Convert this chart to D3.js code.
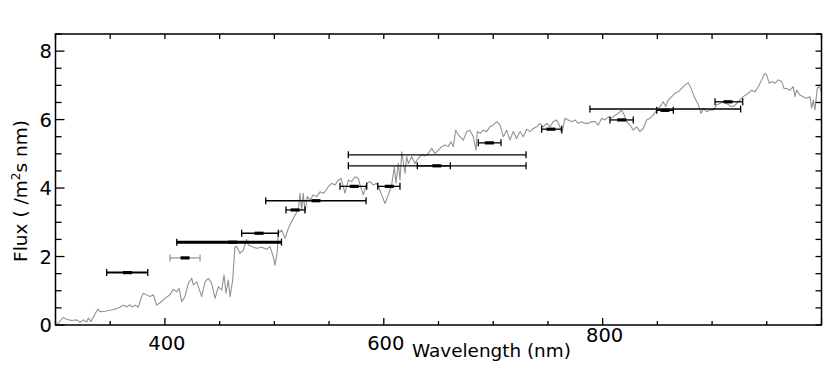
<!DOCTYPE html>
<html>
<head>
<meta charset="utf-8">
<script src="https://cdn.jsdelivr.net/npm/d3@7"></script>
<style>
  html, body { margin: 0; padding: 0; background: #fff; }
  svg { display: block; font-family: "DejaVu Sans", sans-serif; }
</style>
</head>
<body>
<div id="chart"></div>
<script>
// Spectrum (nm, flux)
const wavelength = [
  301.1, 307.1, 310.2, 314.8, 319.4, 322.4, 325.4, 328.5, 330.0, 332.4, 336.1, 338.6, 340.7, 345.2, 349.8,
  354.4, 358.9, 362.0, 365.1, 368.1, 370.2, 373.3, 375.7, 378.1, 380.2, 383.3, 386.4, 389.4, 392.5, 395.5,
  400.1, 404.6, 407.6, 410.8, 412.9, 415.3, 418.3, 421.4, 424.5, 425.9, 429.0, 433.6, 436.6, 439.6, 442.7,
  445.8, 448.8, 451.9, 454.0, 455.8, 457.9, 459.5, 461.9, 464.0, 465.6, 468.6, 471.6, 474.7, 476.2, 479.3,
  483.9, 488.4, 493.0, 496.0, 499.0, 500.6, 502.7, 503.6, 506.7, 509.7, 512.7, 515.8, 518.9, 521.9, 523.4,
  525.0, 526.4, 528.0, 530.1, 532.6, 535.6, 538.7, 541.7, 544.7, 546.3, 549.3, 552.4, 555.4, 558.4, 560.9,
  563.0, 564.5, 567.6, 570.7, 573.7, 576.7, 578.3, 581.3, 584.4, 587.4, 590.4, 593.5, 595.0, 598.1, 601.1,
  604.1, 607.2, 609.6, 611.1, 613.3, 614.8, 616.4, 617.8, 619.4, 620.9, 622.4, 625.5, 628.5, 631.5, 634.6,
  637.6, 640.7, 643.8, 646.8, 649.8, 652.9, 655.9, 658.9, 661.4, 663.5, 665.7, 668.1, 669.6, 672.6, 675.8,
  678.8, 681.8, 684.3, 685.4, 687.9, 690.9, 694.0, 697.0, 700.1, 703.2, 706.2, 709.2, 712.3, 715.3, 718.3,
  721.4, 724.5, 727.5, 730.6, 733.6, 736.6, 739.7, 742.7, 745.7, 748.9, 751.9, 754.9, 758.0, 761.0, 762.6,
  765.6, 768.6, 771.7, 774.7, 777.7, 780.8, 783.9, 786.9, 790.0, 793.0, 796.0, 799.1, 802.1, 805.1, 808.3,
  811.3, 814.3, 817.4, 819.8, 822.0, 825.0, 828.0, 831.1, 834.1, 837.1, 840.2, 843.3, 846.3, 849.4, 852.4,
  855.4, 857.6, 860.0, 863.1, 866.1, 869.1, 872.2, 875.2, 878.3, 881.4, 884.4, 887.4, 889.9, 892.0, 895.1,
  898.1, 901.1, 904.2, 907.2, 910.2, 913.3, 916.4, 919.4, 922.5, 928.5, 933.1, 936.2, 939.2, 942.2, 945.3,
  948.3, 949.9, 952.3, 954.5, 957.5, 960.5, 963.6, 965.7, 968.2, 971.2, 974.2, 975.8, 977.3, 980.3, 983.3,
  986.4, 989.5, 991.0, 992.5, 994.0, 996.1, 997.9, 1000.0
];
const flux = [
  0.00, 0.22, 0.17, 0.13, 0.15, 0.08, 0.15, 0.09, 0.20, 0.10, 0.32, 0.46, 0.39, 0.40, 0.43,
  0.46, 0.52, 0.58, 0.53, 0.59, 0.53, 0.58, 0.52, 0.78, 0.93, 0.88, 0.83, 0.88, 0.58, 0.65,
  0.78, 0.88, 1.04, 0.97, 1.07, 0.68, 0.83, 1.22, 1.36, 1.17, 1.26, 0.83, 1.26, 1.36, 1.22,
  0.78, 1.12, 1.02, 1.46, 0.93, 1.31, 0.83, 1.31, 2.29, 2.29, 2.09, 2.19, 2.50, 2.34, 2.29,
  2.24, 2.27, 2.21, 2.29, 2.00, 1.75, 2.14, 2.68, 2.77, 2.53, 2.82, 3.02, 3.21, 3.36, 3.85,
  3.36, 3.85, 3.31, 3.75, 3.65, 3.80, 3.75, 3.89, 3.85, 3.89, 4.04, 4.14, 4.09, 4.23, 4.28,
  4.04, 3.85, 4.23, 4.19, 4.33, 4.28, 4.09, 3.80, 4.14, 4.19, 4.09, 4.14, 4.04, 3.80, 3.55,
  3.80, 4.09, 4.62, 4.14, 4.72, 4.23, 5.06, 4.77, 4.43, 4.92, 4.72, 4.92, 4.72, 4.87, 4.97,
  4.94, 5.01, 5.16, 5.01, 5.11, 5.21, 5.26, 5.21, 5.35, 5.21, 5.69, 5.55, 5.50, 5.40, 5.65,
  5.69, 5.50, 5.11, 5.65, 5.60, 5.69, 5.65, 5.79, 5.84, 5.94, 5.84, 5.50, 5.69, 5.40, 5.65,
  5.45, 5.65, 5.50, 5.72, 5.65, 5.74, 5.79, 5.89, 5.79, 5.89, 5.79, 5.94, 5.99, 5.79, 5.58,
  6.04, 5.99, 5.94, 5.99, 5.89, 5.94, 5.89, 5.89, 5.94, 5.94, 5.84, 6.04, 5.99, 6.08, 6.04,
  6.13, 6.18, 6.28, 6.13, 5.94, 5.84, 5.69, 5.79, 5.65, 5.74, 5.99, 6.04, 6.13, 6.28, 6.38,
  6.52, 6.38, 6.57, 6.67, 6.77, 6.81, 6.91, 7.01, 7.08, 6.86, 6.62, 6.43, 6.18, 6.33, 6.23,
  6.28, 6.28, 6.43, 6.47, 6.52, 6.47, 6.40, 6.38, 6.47, 6.67, 6.77, 6.86, 6.81, 6.96, 7.16,
  7.35, 7.30, 7.06, 7.11, 7.06, 7.16, 7.11, 6.91, 6.91, 6.86, 6.96, 6.67, 6.86, 6.72, 6.67,
  6.62, 6.67, 6.33, 6.57, 6.28, 6.91, 6.96, 6.81
];

// Photometric points: band edges (nm), flux, marker wavelength (null = no marker)
const barLow  = [346.8, 404.7, 410.8, 470.1, 492.1, 510.6, 560.0, 594.5, 567.6, 567.6, 630.6, 686.4, 744.3, 806.7, 788.4, 849.4, 902.7];
const barHigh = [384.3, 432.1, 506.5, 503.6, 583.8, 528.0, 584.4, 614.8, 730.0, 730.0, 660.8, 707.1, 762.6, 828.0, 926.1, 864.6, 928.0];
const barFlux = [1.53, 1.96, 2.42, 2.68, 3.63, 3.36, 4.05, 4.05, 4.97, 4.65, 4.65, 5.32, 5.72, 5.99, 6.31, 6.27, 6.52];
const barMark = [365.8, 418.4, 462.0, 486.0, 538.0, 519.0, 573.0, 605.0, null, 648.5, null, 696.5, 752.8, 817.4, null, 857.0, 914.6];

const xLabels = [400, 600, 800];
const yLabels = [0, 2, 4, 6, 8];

// ── Layout ──
const W = 830, H = 369;
const plot = { left: 55.5, right: 821.5, top: 34, bottom: 325 };

const svg = d3.select('#chart').append('svg')
  .attr('width', W)
  .attr('height', H);

const x = d3.scaleLinear().domain([300, 1000]).range([plot.left, plot.right]);
const y = d3.scaleLinear().domain([0, 8.5]).range([plot.bottom, plot.top]);

const xMinor = d3.range(300, 1001, 50);
const yMinor = d3.range(0, 8.51, 0.5);

// ── Spectrum ──
const specData = wavelength.map((w, i) => ({ w, f: flux[i] }));
const line = d3.line().x(d => x(d.w)).y(d => y(d.f));

svg.append('path')
  .datum(specData)
  .attr('fill', 'none')
  .attr('stroke', '#929292')
  .attr('stroke-width', 1.1)
  .attr('stroke-linejoin', 'round')
  .attr('d', line);

// ── Error bars ──
const bars = barLow.map((lo, i) => ({ lo, hi: barHigh[i], f: barFlux[i], m: barMark[i], i }));
const barColor = i => (i === 1 ? '#9a9a9a' : '#000');
const barWidth = i => (i === 2 ? 3 : i === 0 ? 2 : 1.3);

const gBars = svg.append('g');
bars.forEach(b => {
  const yy = y(b.f);
  gBars.append('line')
    .attr('x1', x(b.lo)).attr('x2', x(b.hi))
    .attr('y1', yy).attr('y2', yy)
    .attr('stroke', barColor(b.i))
    .attr('stroke-width', barWidth(b.i));
  [b.lo, b.hi].forEach(v => {
    gBars.append('line')
      .attr('x1', x(v)).attr('x2', x(v))
      .attr('y1', yy - 3.5).attr('y2', yy + 3.5)
      .attr('stroke', barColor(b.i))
      .attr('stroke-width', 1.3);
  });
  if (b.m !== null) {
    gBars.append('rect')
      .attr('x', x(b.m) - 4.5).attr('y', yy - 1.6)
      .attr('width', 9).attr('height', 3.2)
      .attr('fill', '#000');
  }
});

// ── Frame & ticks ──
const axes = svg.append('g').attr('stroke', '#000');

xMinor.forEach(v => {
  const major = v % 200 === 0;
  axes.append('line')
    .attr('x1', x(v)).attr('x2', x(v))
    .attr('y1', plot.bottom).attr('y2', plot.bottom - (major ? 7 : 4))
    .attr('stroke-width', 1.3);
  axes.append('line')
    .attr('x1', x(v)).attr('x2', x(v))
    .attr('y1', plot.top).attr('y2', plot.top + 5)
    .attr('stroke-width', 1.3);
});

yMinor.forEach(v => {
  const major = v % 2 === 0;
  axes.append('line')
    .attr('x1', plot.left).attr('x2', plot.left + (major ? 9 : 6))
    .attr('y1', y(v)).attr('y2', y(v))
    .attr('stroke-width', 1.3);
  axes.append('line')
    .attr('x1', plot.right).attr('x2', plot.right - 6)
    .attr('y1', y(v)).attr('y2', y(v))
    .attr('stroke-width', 1.3);
});

svg.append('rect')
  .attr('x', plot.left).attr('y', plot.top)
  .attr('width', plot.right - plot.left)
  .attr('height', plot.bottom - plot.top)
  .attr('fill', 'none')
  .attr('stroke', '#000')
  .attr('stroke-width', 1.5);

// ── Labels ──
svg.append('g').selectAll('text')
  .data(xLabels)
  .enter().append('text')
  .attr('x', d => x(d) + 2)
  .attr('y', d => (d === 800 ? 341.5 : 350))
  .attr('text-anchor', 'middle')
  .attr('font-size', '19.5px')
  .attr('fill', '#000')
  .text(d => d);

svg.append('g').selectAll('text')
  .data(yLabels)
  .enter().append('text')
  .attr('x', 52)
  .attr('y', d => y(d))
  .attr('dy', '0.36em')
  .attr('text-anchor', 'end')
  .attr('font-size', '19.5px')
  .attr('fill', '#000')
  .text(d => d);

svg.append('text')
  .attr('x', 412)
  .attr('y', 356.5)
  .attr('font-size', '18.4px')
  .attr('fill', '#000')
  .text('Wavelength (nm)');

const yTitle = svg.append('text')
  .attr('transform', 'translate(27,191) rotate(-90)')
  .attr('text-anchor', 'middle')
  .attr('font-size', '18.5px')
  .attr('fill', '#000');
yTitle.append('tspan').text('Flux ( /m');
yTitle.append('tspan').attr('baseline-shift', 'super').attr('font-size', '12px').text('2');
yTitle.append('tspan').text('s nm)');
</script>
</body>
</html>
